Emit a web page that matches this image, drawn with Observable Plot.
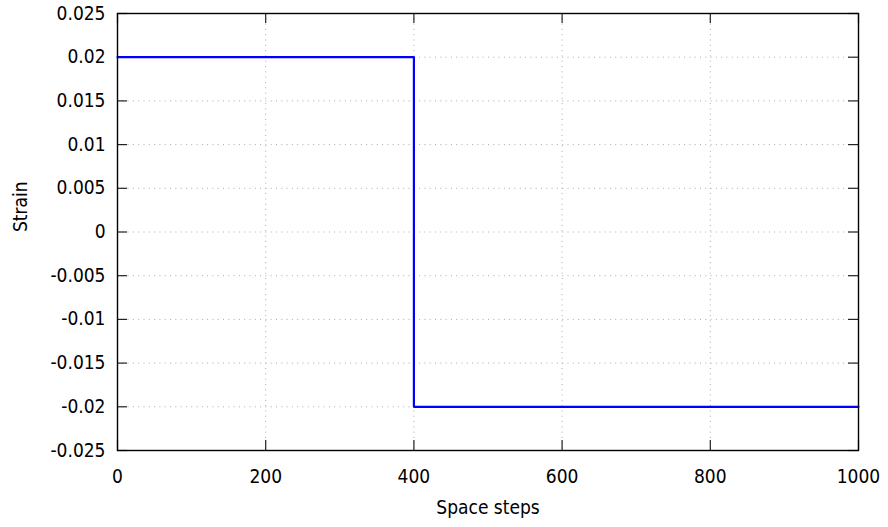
<!DOCTYPE html>
<html>
<head>
<meta charset="utf-8">
<script src="https://cdn.jsdelivr.net/npm/d3@7"></script>
<script src="https://cdn.jsdelivr.net/npm/@observablehq/plot@0.6"></script>
<style>
  html, body { margin: 0; padding: 0; background: #fff; }
  #chart svg { font-family: "DejaVu Sans Condensed", "DejaVu Sans", sans-serif; font-stretch: condensed; }
</style>
</head>
<body>
<div id="chart"></div>
<script>
// Data: step profile of strain along space steps
const spaceSteps = [0, 400, 1000];
const strainValues = [0.02, -0.02, -0.02];

const xTicks = [0, 200, 400, 600, 800, 1000];
const yTicks = [-0.025, -0.02, -0.015, -0.01, -0.005, 0, 0.005, 0.01, 0.015, 0.02, 0.025];
const xLabel = "Space steps";
const yLabel = "Strain";

const W = 888, H = 527;
const mL = 117, mR = 30, mT = 13, mB = 77;
const pw = W - mL - mR, ph = H - mT - mB;
const tickLen = 10;

const data = spaceSteps.map((x, i) => ({x, y: strainValues[i]}));
const fmtY = d => String(+d.toFixed(3));
const innerX = xTicks.slice(1, -1);
const innerY = yTicks.slice(1, -1);

const chart = Plot.plot({
  width: W,
  height: H,
  marginLeft: mL,
  marginRight: mR,
  marginTop: mT,
  marginBottom: mB,
  style: {fontSize: "19px", background: "#fff", color: "#000"},
  x: {domain: [0, 1000], ticks: xTicks},
  y: {domain: [-0.025, 0.025], ticks: yTicks},
  marks: [
    Plot.gridX(innerX, {stroke: "#aaa", strokeOpacity: 1, strokeWidth: 1, strokeDasharray: "1,4.3"}),
    Plot.gridY(innerY, {stroke: "#aaa", strokeOpacity: 1, strokeWidth: 1, strokeDasharray: "1,4.3"}),
    // inward ticks (left, right, bottom, top)
    Plot.tickY(yTicks, {y: d => d, insetRight: pw - tickLen, stroke: "#222", strokeWidth: 1.2}),
    Plot.tickY(yTicks, {y: d => d, insetLeft: pw - tickLen, stroke: "#222", strokeWidth: 1.2}),
    Plot.tickX(xTicks, {x: d => d, insetTop: ph - tickLen, stroke: "#222", strokeWidth: 1.2}),
    Plot.tickX(xTicks, {x: d => d, insetBottom: ph - tickLen, stroke: "#222", strokeWidth: 1.2}),
    Plot.axisX(xTicks, {tickSize: 0, tickPadding: 19, tickFormat: d => String(d), label: null}),
    Plot.axisY(yTicks, {tickSize: 0, tickPadding: 12, tickFormat: fmtY, label: null}),
    Plot.line(data, {x: "x", y: "y", curve: "step-after", stroke: "#0000ff", strokeWidth: 2.2}),
    Plot.frame({stroke: "#000", strokeWidth: 1.4}),
    Plot.text([xLabel], {frameAnchor: "bottom", dy: 63, fill: "#000"}),
    Plot.text([yLabel], {frameAnchor: "left", dx: -97, rotate: -90, fill: "#000"})
  ]
});

document.getElementById("chart").appendChild(chart);
</script>
</body>
</html>
